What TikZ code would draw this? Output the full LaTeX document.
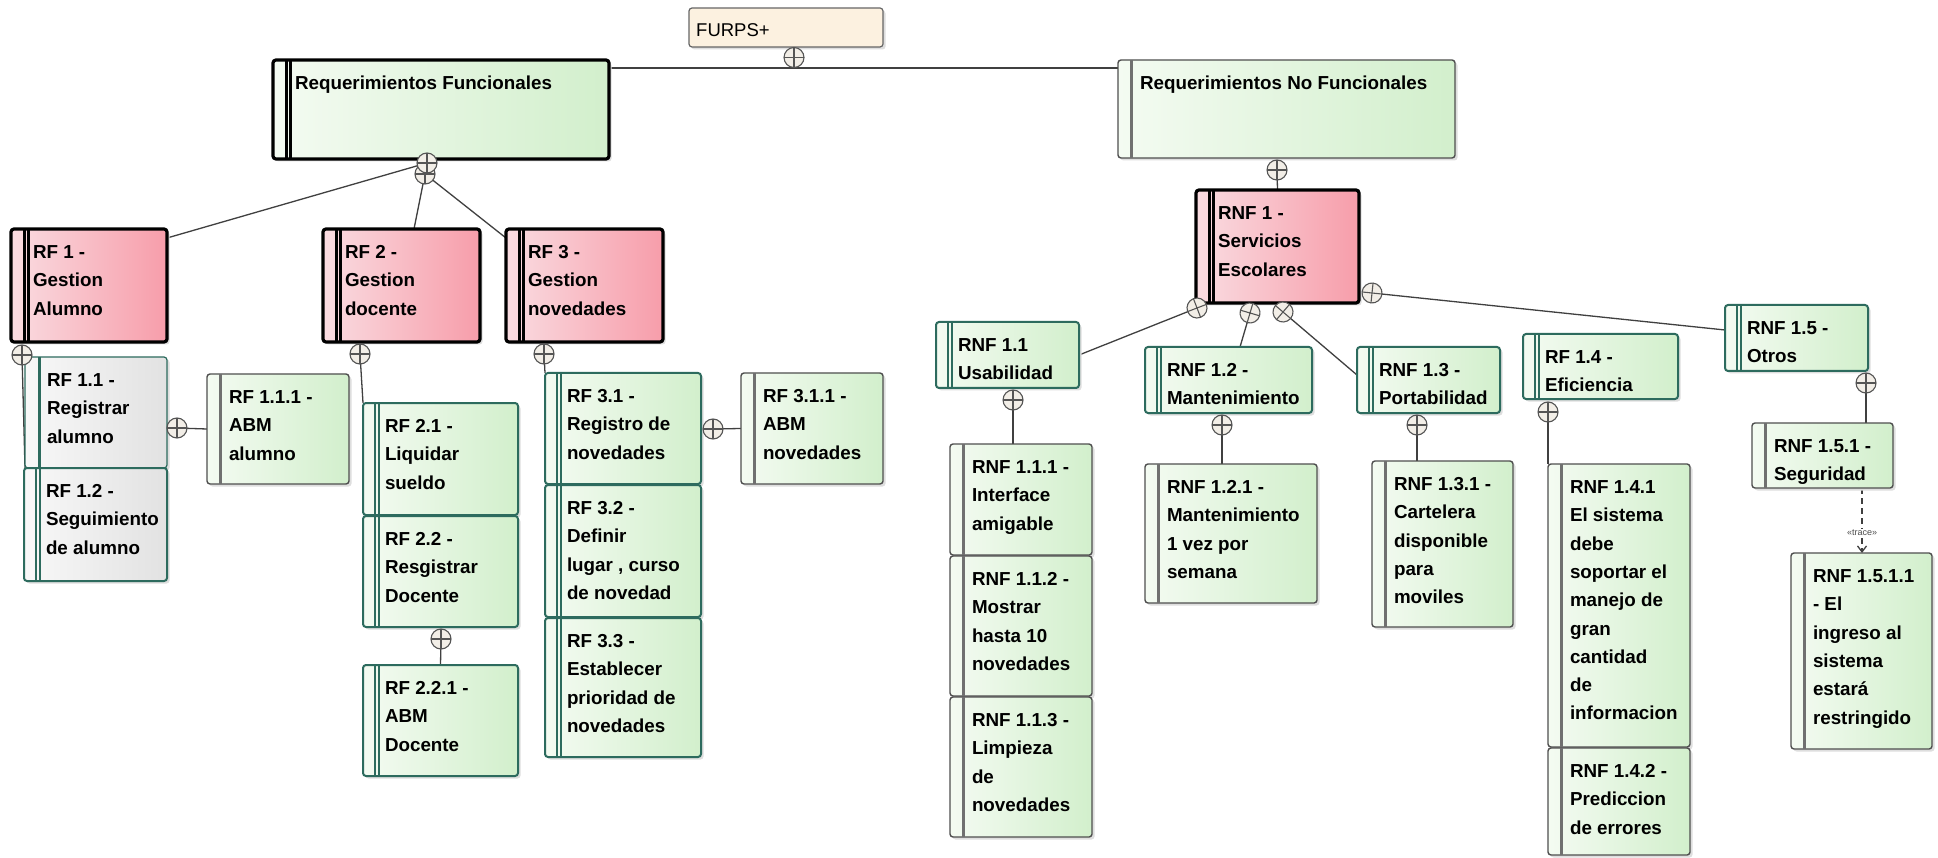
\documentclass[tikz,border=0pt]{standalone}
\usepackage{fontspec}
\setmainfont{Liberation Sans}
\usetikzlibrary{arrows.meta,calc}
\pgfdeclarelayer{back}
\pgfdeclarelayer{bg}
\pgfsetlayers{back,bg,main}
\definecolor{pinkL}{HTML}{FADCE1}
\definecolor{pinkR}{HTML}{F79DAA}
\definecolor{greenL}{HTML}{F4FBF2}
\definecolor{greenR}{HTML}{D2EFCC}
\definecolor{grayL}{HTML}{F8F8F8}
\definecolor{grayR}{HTML}{E2E2E2}
\definecolor{beige}{HTML}{FCF1E0}
\definecolor{tealc}{HTML}{2D6B5E}
\definecolor{grayb}{HTML}{4F4F4F}
\definecolor{graybar}{HTML}{707070}
\definecolor{cpfill}{HTML}{F2EEE7}
\definecolor{cpline}{HTML}{555555}
\definecolor{connc}{HTML}{404040}
\tikzset{
  boxbase/.style={rectangle, rounded corners=3pt, inner sep=0pt, outer sep=0pt, anchor=north west},
  kblk/.style={boxbase, draw=black, line width=3.2pt, left color=pinkL, right color=pinkR},
  kblkg/.style={boxbase, draw=black, line width=3.2pt, left color=greenL, right color=greenR},
  kteal/.style={boxbase, draw=tealc, line width=2pt, left color=greenL, right color=greenR},
  ktealthin/.style={boxbase, draw=tealc, line width=1.2pt, left color=grayL, right color=grayR},
  ktealgray/.style={boxbase, draw=tealc, line width=2pt, left color=grayL, right color=grayR},
  kgry/.style={boxbase, draw=grayb, line width=1.4pt, left color=greenL, right color=greenR},
  txt/.style={inner sep=0pt, outer sep=0pt, anchor=base west, font=\fontsize{18.8}{28.3}\selectfont\bfseries, text=black},
  conn/.style={draw=connc, line width=1.3pt},
  cp/.style={circle, draw=cpline, fill=cpfill, line width=1.1pt, minimum size=20pt, inner sep=0pt, outer sep=0pt},
  cpl/.style={draw=cpline, line width=1.1pt},
  shadowfill/.style={fill=black!13, rounded corners=3pt},
}
\newcommand\twobars[4]{% node, color, width, offset
  \draw[#2, line width=#3] ([xshift=#4pt]#1.north west) -- ([xshift=#4pt]#1.south west);}
\newcommand\barkblk[1]{\twobars{#1}{black}{2.6pt}{13.5}\twobars{#1}{black}{2.6pt}{17.5}}
\newcommand\barkblkg[1]{\twobars{#1}{black}{2.6pt}{13.5}\twobars{#1}{black}{2.6pt}{17.5}}
\newcommand\barkteal[1]{\twobars{#1}{tealc}{2pt}{12}\twobars{#1}{tealc}{2pt}{16}}
\newcommand\barktealgray[1]{\twobars{#1}{tealc}{2pt}{12}\twobars{#1}{tealc}{2pt}{16}}
\newcommand\barktealthin[1]{\twobars{#1}{tealc}{3pt}{14}}
\newcommand\barkgry[1]{\twobars{#1}{graybar}{3.5pt}{13.5}}
\newcommand\reqbox[7]{%
  \pgfmathsetmacro\bw{#5-#3}\pgfmathsetmacro\bh{#6-#4}\pgfmathsetmacro\tw{#5-#3-24}%
  \fill[shadowfill] (#3+2.5,#4+2.5) rectangle (#5+2.5,#6+2.5);
  \node[k#2, minimum width=\bw pt, minimum height=\bh pt] (#1) at (#3,#4) {};
  \csname bark#2\endcsname{#1}%
  \node[txt] (#1-t) at ([xshift=22pt,yshift=-29.5pt]#1.north west) {\parbox[t]{\tw pt}{\raggedright #7}};
}
\newcommand\cplus[3][0]{%
  \node[cp, rotate=#1] (#2) at (#3) {};
  \draw[cpl] (#2.north) -- (#2.south) (#2.east) -- (#2.west);
}
\begin{document}
\begin{tikzpicture}[x=1pt, y=-1pt]
\useasboundingbox (0,0) rectangle (1938,858);
\begin{pgfonlayer}{back}
\fill[white] (0,0) rectangle (1938,858);
\end{pgfonlayer}

% FURPS+
\fill[shadowfill] (691.5,10.5) rectangle (885.5,49.5);
\node[boxbase, draw=gray!80!black, line width=1.2pt, fill=beige, minimum width=194pt, minimum height=39pt] (furps) at (689,8) {};
\node[anchor=base west, inner sep=0pt, font=\fontsize{18.5}{20}\selectfont] (furps-t) at (696,37) {FURPS+};

% top level
\reqbox{rfreq}{blkg}{273}{60}{609}{159}{Requerimientos Funcionales}
\reqbox{rnfreq}{gry}{1118}{60}{1455}{158}{Requerimientos No Funcionales}

% RF branch
\reqbox{rf1}{blk}{11}{229}{167}{342}{RF 1 -\\Gestion\\Alumno}
\reqbox{rf2}{blk}{323}{229}{480}{342}{RF 2 -\\Gestion\\docente}
\reqbox{rf3}{blk}{506}{229}{663}{342}{RF 3 -\\Gestion\\novedades}
\reqbox{rf11}{tealthin}{25}{357}{167}{468}{RF 1.1 -\\Registrar\\alumno}
\reqbox{rf12}{tealgray}{24}{468}{167}{581}{RF 1.2 -\\Seguimiento\\de alumno}
\reqbox{rf111}{gry}{207}{374}{349}{484}{RF 1.1.1 -\\ABM\\alumno}
\reqbox{rf21}{teal}{363}{403}{518}{515}{RF 2.1 -\\Liquidar\\sueldo}
\reqbox{rf22}{teal}{363}{516}{518}{627}{RF 2.2 -\\Resgistrar\\Docente}
\reqbox{rf221}{teal}{363}{665}{518}{776}{RF 2.2.1 -\\ABM\\Docente}
\reqbox{rf31}{teal}{545}{373}{701}{484}{RF 3.1 -\\Registro de\\novedades}
\reqbox{rf32}{teal}{545}{485}{701}{617}{RF 3.2 -\\Definir\\lugar , curso\\de novedad}
\reqbox{rf33}{teal}{545}{618}{701}{757}{RF 3.3 -\\Establecer\\prioridad de\\novedades}
\reqbox{rf311}{gry}{741}{373}{883}{484}{RF 3.1.1 -\\ABM\\novedades}

% RNF branch
\reqbox{rnf1}{blk}{1196}{190}{1359}{303}{RNF 1 -\\Servicios\\Escolares}
\reqbox{rnf11}{teal}{936}{322}{1079}{388}{RNF 1.1\\Usabilidad}
\reqbox{rnf111}{gry}{950}{444}{1092}{555}{RNF 1.1.1 -\\Interface\\amigable}
\reqbox{rnf112}{gry}{950}{556}{1092}{696}{RNF 1.1.2 -\\Mostrar\\hasta 10\\novedades}
\reqbox{rnf113}{gry}{950}{697}{1092}{837}{RNF 1.1.3 -\\Limpieza\\de\\novedades}
\reqbox{rnf12}{teal}{1145}{347}{1312}{413}{RNF 1.2 -\\Mantenimiento}
\reqbox{rnf121}{gry}{1145}{464}{1317}{603}{RNF 1.2.1 -\\Mantenimiento\\1 vez por\\semana}
\reqbox{rnf13}{teal}{1357}{347}{1500}{413}{RNF 1.3 -\\Portabilidad}
\reqbox{rnf131}{gry}{1372}{461}{1513}{627}{RNF 1.3.1 -\\Cartelera\\disponible\\para\\moviles}
\reqbox{rf14}{teal}{1523}{334}{1678}{399}{RF 1.4 -\\Eficiencia}
\reqbox{rnf141}{gry}{1548}{464}{1690}{747}{RNF 1.4.1\\El sistema\\debe\\soportar el\\manejo de\\gran\\cantidad\\de\\informacion}
\reqbox{rnf142}{gry}{1548}{748}{1690}{855}{RNF 1.4.2 -\\Prediccion\\de errores}
\reqbox{rnf15}{teal}{1725}{305}{1868}{371}{RNF 1.5 -\\Otros}
\reqbox{rnf151}{gry}{1752}{423}{1893}{488}{RNF 1.5.1 -\\Seguridad}
\reqbox{rnf1511}{gry}{1791}{553}{1932}{749}{RNF 1.5.1.1\\- El\\ingreso al\\sistema\\estará\\restringido}

% composition circles
\cplus{cF}{794,57.5}
\cplus{cR2}{425,174}
\cplus{cR1}{427,163}
\cplus{c1}{22,355}
\cplus{c11}{177,428}
\cplus{c2}{360,354}
\cplus{c22}{441,639}
\cplus{c3}{544,354}
\cplus{c31}{713,429}
\cplus{cN}{1277,170}
\cplus[21]{cN1}{1197,308}
\cplus[73.6]{cN2}{1250,313}
\cplus[-40.4]{cN3}{1283,312}
\cplus[-6]{cN4}{1372,293}
\cplus{cU}{1013,400}
\cplus{cM}{1222,425}
\cplus{cP}{1417,425}
\cplus{cE}{1548,412}
\cplus{cO}{1866,383}

% connectors
\begin{pgfonlayer}{bg}
\coordinate (hl) at (0,68);
\draw[conn] (rfreq.east |- hl) -- (rnfreq.west |- hl);
\draw[conn] (cR1) -- ($(rf1.north east)+(0,9)$);
\draw[conn] (cR2) -- ($(rf2.north west)+(91,0)$);
\draw[conn] (cR2) -- ($(rf3.north west)+(0,9)$);
\draw[conn] (c1) -- ($(rf12.north west)+(1,0)$);
\draw[conn] (c11) -- (rf111.west);
\draw[conn] (c2) -- (rf21.north west);
\draw[conn] (c22) -- (rf221.north);
\draw[conn] (c3) -- (rf31.north west);
\draw[conn] (c31) -- (rf311.west);
\draw[conn] (cN) -- (rnf1.north);
\draw[conn] (cN1) -- (rnf11.east);
\draw[conn] (cN2) -- ($(rnf12.north west)+(95,0)$);
\draw[conn] (cN3) -- ($(rnf13.north west)+(0,28)$);
\draw[conn] (cN4) -- ($(rnf15.north west)+(0,25)$);
\draw[conn] (cU) -- ($(rnf111.north west)+(63,0)$);
\draw[conn] (cM) -- ($(rnf121.north west)+(77,0)$);
\draw[conn] (cP) -- ($(rnf131.north west)+(45,0)$);
\draw[conn] (cE) -- (rnf141.north west);
\draw[conn] (cO) -- ($(rnf151.north west)+(114,0)$);
\draw[conn, dash pattern=on 6pt off 4pt, -{Straight Barb[length=6pt,width=9pt]}]
  ($(rnf151.south west)+(110,0)$) -- ($(rnf1511.north west)+(71,0)$)
  node[pos=0.69, fill=white, inner sep=1pt, text=black!70, font=\fontsize{9}{10}\selectfont] (trace) {«trace»};
\end{pgfonlayer}
\end{tikzpicture}
\end{document}
